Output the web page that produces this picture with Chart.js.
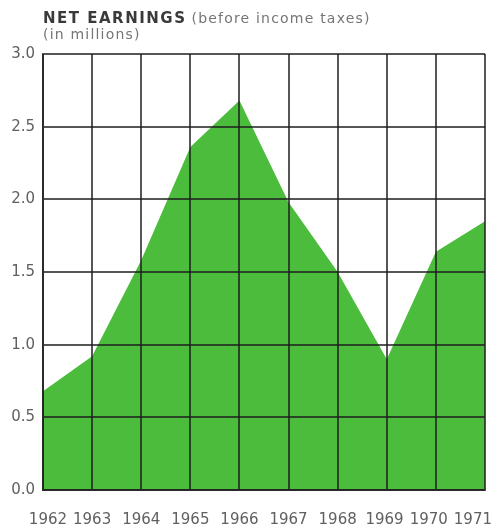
<!DOCTYPE html>
<html>
<head>
<meta charset="utf-8">
<script src="https://cdn.jsdelivr.net/npm/chart.js@4/dist/chart.umd.min.js"></script>
<style>
  html, body { margin: 0; padding: 0; background: #ffffff; }
  #wrap { position: relative; width: 497px; height: 527px; }
</style>
</head>
<body>
<div id="wrap"><canvas id="chart"></canvas></div>
<script>
// Net earnings before income taxes, in millions of dollars
const years = ['1962', '1963', '1964', '1965', '1966', '1967', '1968', '1969', '1970', '1971'];
const earnings = [0.68, 0.92, 1.58, 2.36, 2.68, 1.98, 1.50, 0.90, 1.64, 1.85];
const yTicks = [0.0, 0.5, 1.0, 1.5, 2.0, 2.5, 3.0];

const titleMain = 'NET EARNINGS';
const titleNote = '(before income taxes)';
const titleUnit = '(in millions)';

const GREEN = '#4cbc3c';
const GRID = 'rgba(30,30,30,0.75)';
const LABEL = '#606060';
const FONT = '"DejaVu Sans", "Liberation Sans", sans-serif';

// Heading drawn above the plot area
const headingPlugin = {
  id: 'heading',
  afterDraw(chart) {
    const ctx = chart.ctx;
    ctx.save();
    ctx.textBaseline = 'alphabetic';
    ctx.textAlign = 'left';
    ctx.letterSpacing = '1.5px';
    ctx.font = 'bold 15px ' + FONT;
    ctx.fillStyle = '#3a3a3a';
    ctx.fillText(titleMain, 43, 23);
    const w = ctx.measureText(titleMain).width;
    ctx.letterSpacing = '1.2px';
    ctx.font = '14px ' + FONT;
    ctx.fillStyle = '#757575';
    ctx.fillText(titleNote, 43 + w + 5, 23);
    ctx.fillText(titleUnit, 43, 39);
    ctx.restore();
  }
};

// Year labels under the gridlines, kept inside the page and apart from each other
const yearLabelPlugin = {
  id: 'yearLabels',
  afterDraw(chart) {
    const ctx = chart.ctx;
    const xs = chart.scales.x;
    const gap = 6;
    ctx.save();
    ctx.font = '15px ' + FONT;
    ctx.fillStyle = LABEL;
    ctx.textAlign = 'center';
    ctx.textBaseline = 'alphabetic';
    const items = years.map((label, i) => {
      const w = ctx.measureText(label).width;
      let x = xs.getPixelForValue(i);
      x = Math.min(x, chart.width - 5 - w / 2);
      x = Math.max(x, 29 + w / 2);
      return { label, w, x };
    });
    // push labels left where they would collide with the next one
    for (let i = items.length - 2; i >= 0; i--) {
      const next = items[i + 1];
      const limit = next.x - next.w / 2 - gap - items[i].w / 2;
      if (items[i].x > limit) items[i].x = limit;
    }
    items.forEach(it => ctx.fillText(it.label, it.x, 524));
    ctx.restore();
  }
};

new Chart(document.getElementById('chart'), {
  type: 'line',
  data: {
    labels: years,
    datasets: [{
      data: earnings,
      fill: 'origin',
      backgroundColor: GREEN,
      borderWidth: 0,
      borderColor: GREEN,
      pointRadius: 0,
      tension: 0
    }]
  },
  plugins: [headingPlugin, yearLabelPlugin],
  options: {
    responsive: true,
    maintainAspectRatio: false,
    animation: false,
    layout: { padding: { top: 54, right: 12, bottom: 0, left: 0 } },
    plugins: {
      legend: { display: false },
      tooltip: { enabled: false },
      title: { display: false }
    },
    scales: {
      x: {
        type: 'category',
        offset: false,
        grid: { color: GRID, lineWidth: 2, drawTicks: false, z: 1 },
        border: { display: true, color: GRID, width: 2, z: 1 },
        ticks: { display: false },
        afterFit(scale) { scale.height = 37; }
      },
      y: {
        min: 0,
        max: 3,
        afterBuildTicks(scale) { scale.ticks = yTicks.map(v => ({ value: v })); },
        grid: { color: GRID, lineWidth: 2, drawTicks: false, z: 1 },
        border: { display: true, color: GRID, width: 2, z: 1 },
        ticks: {
          color: LABEL,
          font: { family: FONT, size: 15 },
          padding: 8,
          callback: v => Number(v).toFixed(1)
        },
        afterFit(scale) { scale.width = 43; }
      }
    }
  }
});
</script>
</body>
</html>
